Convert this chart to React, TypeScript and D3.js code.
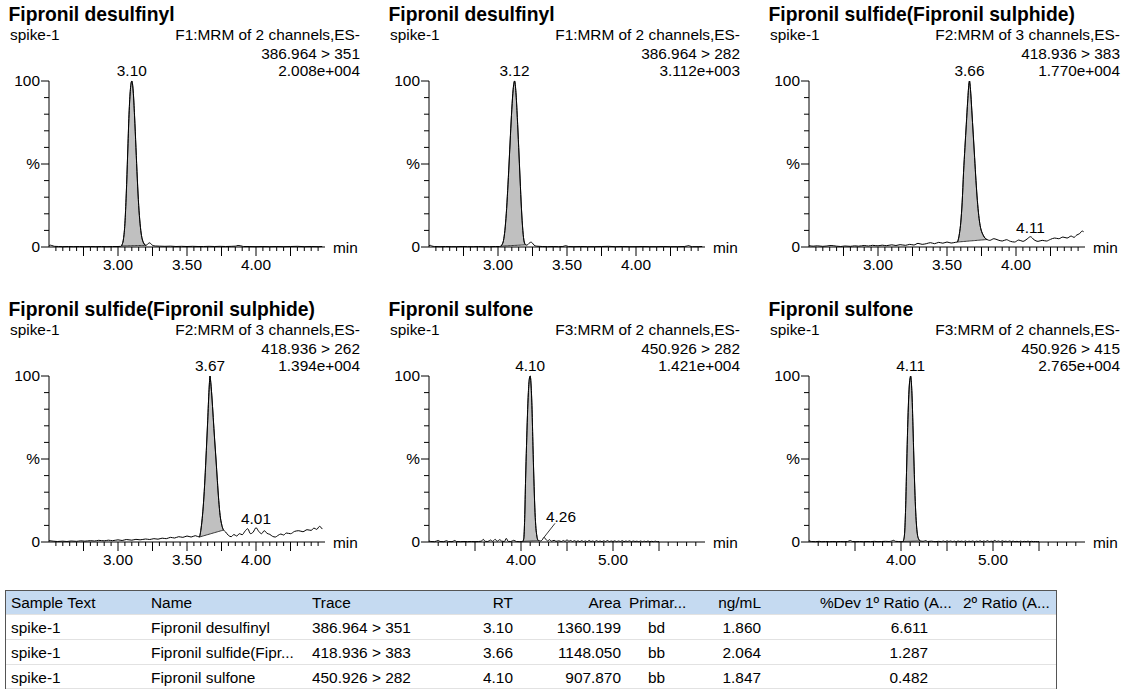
import React from "react";
import * as d3 from "d3";

type Pt = [number, number];

// chromatogram traces: [retention time (min), % of largest peak]
const desulfinyl351: Pt[] = [
  [2.5, 0.8], [2.51, 1.1], [2.52, 0.9], [2.54, 0.4], [2.57, 0.3], [2.6, 0.2], [2.64, 0.3], [2.68, 0.2],
  [2.72, 0.3], [2.76, 0.2], [2.8, 0.3], [2.84, 0.2], [2.88, 0.3], [2.92, 0.2], [2.96, 0.3], [3.0, 0.3],
  [3.02, 0.4], [3.025, 0.6], [3.03, 1.5], [3.04, 5], [3.05, 14], [3.06, 32], [3.07, 56], [3.08, 80],
  [3.09, 95], [3.1, 100], [3.11, 94], [3.12, 79], [3.13, 60], [3.14, 41], [3.15, 25], [3.16, 14],
  [3.17, 7], [3.18, 3.5], [3.19, 1.8], [3.2, 1.0], [3.21, 1.3], [3.22, 2.2], [3.23, 2.5], [3.24, 1.8],
  [3.25, 1.0], [3.27, 0.6], [3.3, 0.5], [3.34, 0.4], [3.38, 0.5], [3.42, 0.3], [3.46, 0.4], [3.5, 0.3],
  [3.54, 0.4], [3.58, 0.3], [3.62, 0.3], [3.66, 0.4], [3.7, 0.3], [3.74, 0.4], [3.78, 0.3], [3.82, 0.4],
  [3.85, 0.5], [3.87, 0.9], [3.89, 0.7], [3.91, 0.3], [3.95, 0.3], [4.0, 0.2], [4.05, 0.3], [4.1, 0.2],
  [4.15, 0.3], [4.2, 0.2], [4.25, 0.3], [4.3, 0.4], [4.35, 0.2], [4.4, 0.3], [4.45, 0.2], [4.48, 0.3],
];

const desulfinyl282: Pt[] = [
  [2.5, 0.9], [2.51, 1.0], [2.52, 0.6], [2.54, 0.3], [2.58, 0.2], [2.62, 0.3], [2.66, 0.2], [2.7, 0.2],
  [2.74, 0.3], [2.78, 0.2], [2.82, 0.2], [2.86, 0.3], [2.9, 0.2], [2.94, 0.2], [2.98, 0.3], [3.01, 0.3],
  [3.02, 0.5], [3.03, 1.5], [3.04, 4], [3.05, 10], [3.06, 20], [3.07, 34], [3.08, 50], [3.09, 67],
  [3.1, 83], [3.11, 95], [3.12, 100], [3.13, 93], [3.14, 78], [3.15, 60], [3.16, 41], [3.17, 23],
  [3.18, 10], [3.19, 3], [3.2, 1.3], [3.21, 1.1], [3.22, 1.8], [3.23, 2.6], [3.24, 2.9], [3.25, 2.3],
  [3.26, 1.2], [3.28, 0.5], [3.32, 0.3], [3.36, 0.2], [3.4, 0.3], [3.44, 0.2], [3.47, 0.3], [3.49, 0.8],
  [3.51, 0.3], [3.55, 0.2], [3.6, 0.3], [3.65, 0.2], [3.7, 0.2], [3.75, 0.3], [3.8, 0.4], [3.85, 0.2],
  [3.9, 0.3], [3.95, 0.2], [4.0, 0.2], [4.05, 0.3], [4.1, 0.2], [4.15, 0.2], [4.2, 0.3], [4.25, 0.2],
  [4.3, 0.2], [4.35, 0.3], [4.37, 0.6], [4.38, 0.9], [4.39, 0.6], [4.41, 0.2], [4.45, 0.2], [4.48, 0.3],
];

const sulfide383: Pt[] = [
  [2.5, 0.8], [2.53, 0.5], [2.56, 0.7], [2.6, 0.4], [2.63, 0.6], [2.66, 0.9], [2.7, 0.5], [2.73, 0.3],
  [2.76, 0.6], [2.8, 0.4], [2.83, 0.7], [2.86, 0.5], [2.9, 0.9], [2.93, 0.6], [2.96, 1.0], [3.0, 0.7],
  [3.03, 1.1], [3.06, 0.8], [3.1, 1.3], [3.13, 0.9], [3.16, 1.4], [3.2, 1.0], [3.23, 1.6], [3.26, 1.2],
  [3.29, 2.2], [3.32, 1.6], [3.35, 2.0], [3.38, 2.6], [3.41, 2.0], [3.44, 2.8], [3.47, 2.3], [3.5, 3.0],
  [3.53, 2.4], [3.56, 2.8], [3.575, 3.0], [3.59, 8], [3.6, 15], [3.61, 27], [3.62, 45], [3.63, 60],
  [3.64, 74], [3.65, 88], [3.66, 99], [3.663, 100], [3.67, 95], [3.68, 82], [3.69, 68], [3.7, 54],
  [3.71, 40], [3.72, 28], [3.73, 19], [3.74, 13], [3.75, 9.5], [3.76, 7.5], [3.77, 6], [3.78, 5],
  [3.79, 4.5], [3.81, 4.0], [3.84, 5.0], [3.87, 4.2], [3.9, 3.6], [3.93, 4.4], [3.96, 3.4], [3.99, 3.0],
  [4.02, 4.2], [4.05, 3.4], [4.08, 4.8], [4.105, 6.2], [4.13, 4.4], [4.16, 3.4], [4.19, 4.0], [4.22, 3.6],
  [4.25, 4.6], [4.28, 5.4], [4.31, 5.0], [4.34, 6.0], [4.37, 5.4], [4.4, 6.6], [4.42, 5.8], [4.44, 7.2],
  [4.46, 8.0], [4.48, 9.6], [4.49, 9.2],
];

const sulfide262: Pt[] = [
  [2.5, 0.8], [2.53, 0.5], [2.56, 0.3], [2.6, 0.5], [2.63, 0.3], [2.66, 0.6], [2.7, 0.4], [2.73, 0.7],
  [2.76, 0.5], [2.8, 0.8], [2.83, 0.6], [2.86, 1.0], [2.9, 0.7], [2.93, 1.1], [2.96, 0.8], [3.0, 1.3],
  [3.03, 0.9], [3.06, 1.5], [3.1, 1.1], [3.13, 1.6], [3.16, 1.3], [3.2, 1.8], [3.23, 1.5], [3.26, 2.0],
  [3.29, 1.7], [3.32, 2.3], [3.35, 2.0], [3.38, 2.8], [3.41, 2.4], [3.44, 3.2], [3.47, 2.8], [3.5, 3.6],
  [3.53, 3.0], [3.56, 3.8], [3.59, 3.0], [3.6, 7], [3.61, 14], [3.62, 24], [3.63, 38], [3.64, 55],
  [3.65, 73], [3.66, 92], [3.667, 100], [3.67, 98], [3.68, 88], [3.69, 75], [3.7, 62], [3.71, 50],
  [3.72, 37], [3.73, 25], [3.74, 16], [3.75, 11], [3.76, 8], [3.765, 7.2], [3.78, 6.0], [3.8, 4.0],
  [3.82, 3.2], [3.84, 4.5], [3.86, 3.6], [3.88, 5.0], [3.9, 4.4], [3.92, 6.5], [3.94, 8.0], [3.96, 5.0],
  [3.98, 6.0], [4.0, 8.6], [4.02, 6.4], [4.04, 5.0], [4.06, 6.8], [4.08, 5.2], [4.1, 4.6], [4.12, 3.4],
  [4.14, 3.0], [4.16, 4.0], [4.18, 4.8], [4.2, 4.2], [4.22, 5.4], [4.25, 5.0], [4.28, 6.4], [4.31, 6.8],
  [4.34, 6.2], [4.37, 7.4], [4.4, 7.0], [4.42, 8.4], [4.44, 7.6], [4.46, 9.4], [4.48, 7.8],
];

const sulfone282: Pt[] = [
  [3.0, 0.6], [3.02, 0.3], [3.06, 0.2], [3.1, 0.9], [3.12, 0.3], [3.16, 0.2], [3.19, 0.8], [3.21, 0.3],
  [3.25, 0.2], [3.28, 0.9], [3.3, 0.3], [3.34, 0.2], [3.38, 0.3], [3.42, 0.2], [3.46, 0.3], [3.5, 0.2],
  [3.54, 0.3], [3.57, 0.5], [3.59, 1.6], [3.61, 0.4], [3.64, 0.3], [3.67, 1.2], [3.69, 0.4], [3.72, 1.6],
  [3.74, 0.4], [3.77, 1.4], [3.79, 0.5], [3.82, 0.3], [3.84, 2.2], [3.86, 0.4], [3.89, 0.3], [3.92, 1.0],
  [3.95, 0.3], [3.98, 0.2], [4.01, 0.3], [4.02, 0.4], [4.03, 2], [4.04, 14], [4.05, 38], [4.06, 58],
  [4.07, 76], [4.08, 90], [4.09, 98], [4.1, 100], [4.11, 94], [4.12, 80], [4.13, 58], [4.14, 38],
  [4.15, 21], [4.16, 10], [4.17, 4.5], [4.18, 1.6], [4.19, 0.8], [4.21, 0.6], [4.23, 1.2], [4.25, 2.8],
  [4.27, 1.6], [4.29, 0.6], [4.31, 1.4], [4.33, 0.5], [4.36, 1.0], [4.38, 0.4], [4.41, 0.7], [4.44, 0.3],
  [4.46, 0.9], [4.48, 0.3], [4.5, 1.4], [4.52, 0.4], [4.54, 0.9], [4.56, 0.3], [4.58, 0.8], [4.6, 0.3],
  [4.62, 0.7], [4.64, 0.2], [4.66, 0.8], [4.68, 0.3], [4.7, 0.6], [4.72, 0.2], [4.74, 0.9], [4.76, 0.3],
  [4.78, 0.6], [4.8, 0.2], [4.82, 0.8], [4.84, 0.3], [4.86, 0.6], [4.88, 0.2], [4.9, 0.7], [4.92, 0.3],
  [4.94, 0.9], [4.96, 0.2], [4.98, 0.6], [5.0, 0.3], [5.02, 0.7], [5.04, 0.2], [5.06, 0.6], [5.08, 0.3],
  [5.1, 0.8], [5.12, 0.2], [5.14, 0.6], [5.16, 0.3], [5.18, 0.7], [5.2, 0.2], [5.22, 0.6], [5.24, 0.3],
  [5.26, 0.5], [5.28, 0.2], [5.3, 0.6], [5.32, 0.2], [5.34, 0.5], [5.36, 0.2], [5.38, 0.6], [5.4, 0.2],
  [5.42, 0.4], [5.44, 0.2], [5.46, 0.5], [5.48, 0.2], [5.5, 0.3],
];

const sulfone415: Pt[] = [
  [3.0, 0.9], [3.01, 0.5], [3.03, 0.3], [3.07, 0.2], [3.11, 0.4], [3.14, 0.2], [3.18, 0.3], [3.22, 0.2],
  [3.26, 0.3], [3.3, 0.2], [3.34, 0.3], [3.38, 0.2], [3.42, 0.3], [3.45, 0.9], [3.47, 0.3], [3.51, 0.2],
  [3.55, 0.3], [3.59, 0.2], [3.63, 0.3], [3.67, 0.2], [3.71, 0.4], [3.75, 0.2], [3.79, 0.3], [3.83, 0.4],
  [3.87, 0.3], [3.9, 0.6], [3.92, 1.0], [3.94, 0.4], [3.97, 0.3], [4.0, 0.2], [4.02, 0.3], [4.03, 1.5],
  [4.04, 6], [4.05, 20], [4.06, 42], [4.07, 64], [4.08, 82], [4.09, 94], [4.1, 99], [4.105, 100],
  [4.11, 98], [4.12, 88], [4.13, 70], [4.14, 50], [4.15, 32], [4.16, 18], [4.17, 9], [4.18, 4],
  [4.19, 2], [4.2, 1.0], [4.21, 0.6], [4.24, 0.4], [4.27, 0.8], [4.29, 0.3], [4.33, 0.5], [4.37, 0.2],
  [4.41, 0.4], [4.44, 0.2], [4.46, 0.6], [4.48, 0.2], [4.5, 0.7], [4.52, 0.3], [4.54, 0.6], [4.56, 0.2],
  [4.58, 0.5], [4.6, 0.2], [4.62, 0.6], [4.64, 0.3], [4.66, 0.5], [4.68, 0.2], [4.7, 0.6], [4.72, 0.2],
  [4.74, 0.5], [4.76, 0.3], [4.78, 0.6], [4.8, 0.2], [4.82, 0.5], [4.84, 0.3], [4.86, 0.7], [4.88, 0.2],
  [4.9, 0.6], [4.92, 0.3], [4.94, 0.8], [4.96, 0.2], [4.98, 0.5], [5.0, 0.3], [5.02, 0.9], [5.04, 0.3],
  [5.06, 0.6], [5.08, 0.2], [5.1, 0.7], [5.12, 0.3], [5.14, 0.5], [5.16, 0.2], [5.18, 0.6], [5.2, 0.3],
  [5.22, 0.5], [5.24, 0.2], [5.26, 0.4], [5.28, 0.2], [5.3, 0.5], [5.32, 0.2], [5.34, 0.4], [5.36, 0.2],
  [5.38, 0.5], [5.4, 0.2], [5.42, 0.4], [5.44, 0.2], [5.46, 0.3], [5.48, 0.2], [5.5, 0.3],
];

const traces = [desulfinyl351, desulfinyl282, sulfide383, sulfide262, sulfone282, sulfone415];

const titles = [
  "Fipronil desulfinyl",
  "Fipronil desulfinyl",
  "Fipronil sulfide(Fipronil sulphide)",
  "Fipronil sulfide(Fipronil sulphide)",
  "Fipronil sulfone",
  "Fipronil sulfone",
];
const sampleName = "spike-1";
const functionNames = [
  "F1:MRM of 2 channels,ES-",
  "F1:MRM of 2 channels,ES-",
  "F2:MRM of 3 channels,ES-",
  "F2:MRM of 3 channels,ES-",
  "F3:MRM of 2 channels,ES-",
  "F3:MRM of 2 channels,ES-",
];
const transitions = ["386.964 > 351", "386.964 > 282", "418.936 > 383", "418.936 > 262", "450.926 > 282", "450.926 > 415"];
const intensities = ["2.008e+004", "3.112e+003", "1.770e+004", "1.394e+004", "1.421e+004", "2.765e+004"];
const peakLabels = ["3.10", "3.12", "3.66", "3.67", "4.10", "4.11"];
const timeRanges: Pt[] = [[2.5, 4.5], [2.5, 4.5], [2.5, 4.5], [2.5, 4.5], [3, 6], [3, 6]];
// minor tick, major tick, labelled tick (min)
const tickSteps: [number, number, number][] = [
  [0.05, 0.25, 0.5], [0.05, 0.25, 0.5], [0.05, 0.25, 0.5],
  [0.05, 0.25, 0.5], [0.1, 0.5, 1], [0.1, 0.5, 1],
];
const peakWindows: Pt[] = [[3.025, 3.2], [3.02, 3.2], [3.575, 3.79], [3.59, 3.765], [4.02, 4.19], [4.02, 4.21]];
// [panel, time, label, has leader line]
const minorPeaks: [number, number, string, boolean][] = [
  [2, 4.105, "4.11", false],
  [3, 4.0, "4.01", false],
  [4, 4.25, "4.26", true],
];

// results table
const tableHeader = ["Sample Text", "Name", "Trace", "RT", "Area", "Primar...", "ng/mL", "%Dev", "1º Ratio (A...", "2º Ratio (A..."];
const sampleCol = ["spike-1", "spike-1", "spike-1"];
const nameCol = ["Fipronil desulfinyl", "Fipronil sulfide(Fipr...", "Fipronil sulfone"];
const traceCol = ["386.964 > 351", "418.936 > 383", "450.926 > 282"];
const rtCol = ["3.10", "3.66", "4.10"];
const areaCol = ["1360.199", "1148.050", "907.870"];
const primaryCol = ["bd", "bb", "bb"];
const concCol = ["1.860", "2.064", "1.847"];
const ratio1Col = ["6.611", "1.287", "0.482"];

const FONT = "'Liberation Sans', Arial, Helvetica, sans-serif";
const FS = 15.4;

const Panel = ({ i }: { i: number }) => {
  const ox = (i % 3) * 380;
  const oy = Math.floor(i / 3) * 295;
  const [t0, t1] = timeRanges[i];
  const x = d3.scaleLinear().domain([t0, t1]).range([49, 325]);
  const y = d3.scaleLinear().domain([0, 100]).range([247, 81]);
  const data = traces[i];

  const line = d3
    .line<Pt>()
    .x((d) => x(d[0]))
    .y((d) => y(d[1]))
    .curve(d3.curveMonotoneX);

  // integrated peak: area between trace and a straight baseline
  const [w0, w1] = peakWindows[i];
  const inPeak = data.filter((d) => d[0] >= w0 - 1e-9 && d[0] <= w1 + 1e-9);
  const a = inPeak[0];
  const b = inPeak[inPeak.length - 1];
  const base = (t: number) => a[1] + ((t - a[0]) / (b[0] - a[0])) * (b[1] - a[1]);
  const area = d3
    .area<Pt>()
    .x((d) => x(d[0]))
    .y0((d) => y(base(d[0])))
    .y1((d) => y(d[1]))
    .curve(d3.curveMonotoneX);

  const apex = data.reduce((m, d) => (d[1] > m[1] ? d : m), data[0]);

  const [minor, major, lab] = tickSteps[i];
  const n = Math.round((t1 - t0) / minor);
  const ticks = d3.range(1, n).map((k) => t0 + k * minor);
  const isMult = (t: number, s: number) => Math.abs(t / s - Math.round(t / s)) < 1e-6;
  const yTicks = d3.range(0, 101, 10);

  const extras = minorPeaks.filter((m) => m[0] === i);

  return (
    <g transform={`translate(${ox},${oy})`} fontFamily={FONT} fontSize={FS} fill="#000">
      <text x={8.5} y={21} fontWeight="bold" fontSize={19.3}>
        {titles[i]}
      </text>
      <text x={10} y={40}>{sampleName}</text>
      <text x={360} y={40} textAnchor="end">{functionNames[i]}</text>
      <text x={360} y={58.5} textAnchor="end">{transitions[i]}</text>
      <text x={360} y={76} textAnchor="end">{intensities[i]}</text>

      <path d={area(inPeak) || ""} fill="#c0c0c0" stroke="#222" strokeWidth={0.9} />
      <path d={line(data) || ""} fill="none" stroke="#000" strokeWidth={1} />

      <text x={x(apex[0])} y={y(apex[1]) - 5} textAnchor="middle">
        {peakLabels[i]}
      </text>
      {extras.map((m, k) => {
        const p = data.reduce((best, d) => (Math.abs(d[0] - m[1]) < Math.abs(best[0] - m[1]) ? d : best), data[0]);
        const px = x(p[0]);
        const py = y(p[1]);
        return m[3] ? (
          <g key={k}>
            <line x1={px} y1={py} x2={px + 11} y2={py - 14} stroke="#000" strokeWidth={0.8} />
            <text x={px + 17} y={py - 15} textAnchor="middle">{m[2]}</text>
          </g>
        ) : (
          <text key={k} x={px} y={py - 4} textAnchor="middle">{m[2]}</text>
        );
      })}

      {/* y axis */}
      <line x1={49} y1={y(100)} x2={49} y2={y(0)} stroke="#000" strokeWidth={1} />
      {yTicks.map((v) => (
        <line key={v} x1={v % 50 === 0 ? 41 : 44} x2={49} y1={y(v)} y2={y(v)} stroke="#000" strokeWidth={1} />
      ))}
      <text x={40} y={y(100)} dy="0.35em" textAnchor="end">100</text>
      <text x={40} y={y(50)} dy="0.35em" textAnchor="end">%</text>
      <text x={40} y={y(0)} dy="0.35em" textAnchor="end">0</text>

      {/* x axis */}
      <line x1={49} y1={247} x2={325} y2={247} stroke="#000" strokeWidth={1} />
      {ticks.map((t) => (
        <line key={t} x1={x(t)} x2={x(t)} y1={247} y2={isMult(t, major) ? 256 : 251} stroke="#000" strokeWidth={1} />
      ))}
      {ticks
        .filter((t) => isMult(t, lab))
        .map((t) => (
          <text key={t} x={x(t)} y={270} textAnchor="middle">
            {d3.format(".2f")(t)}
          </text>
        ))}
      <text x={333} y={252.5}>min</text>
    </g>
  );
};

const colX = [11, 151, 312, 513, 621, 629, 761, 861, 865, 963];
const colAnchor = ["start", "start", "start", "end", "end", "start", "end", "end", "start", "start"];

const ResultsTable = () => {
  const rowTop = [614, 639, 664];
  const cells: [number, string, string[]][] = [
    [11, "start", sampleCol],
    [151, "start", nameCol],
    [312, "start", traceCol],
    [513, "end", rtCol],
    [621, "end", areaCol],
    [648, "start", primaryCol],
    [761, "end", concCol],
    [928, "end", ratio1Col],
  ];
  return (
    <g fontFamily={FONT} fontSize={FS} fill="#000">
      <rect x={5.5} y={590.5} width={1051} height={24} fill="#c5daf1" />
      {rowTop.map((r) => (
        <line key={r} x1={6} x2={1056} y1={r + 0.5} y2={r + 0.5} stroke="#e2e2e2" />
      ))}
      <line x1={6} x2={1056} y1={688.5} y2={688.5} stroke="#e2e2e2" />
      <rect x={5.5} y={590.5} width={1051} height={110} fill="none" stroke="#555" strokeWidth={1} />
      {tableHeader.map((h, k) => (
        <text key={h} x={colX[k]} y={608} textAnchor={colAnchor[k] as any}>
          {h}
        </text>
      ))}
      {cells.map(([cx, anchor, col]) =>
        col.map((v, r) => (
          <text key={`${cx}-${r}`} x={cx} y={rowTop[r] + 19} textAnchor={anchor as any}>
            {v}
          </text>
        ))
      )}
    </g>
  );
};

export default function App() {
  return (
    <svg
      width={1128}
      height={689}
      style={{ position: "absolute", left: 0, top: 0, background: "#fff" }}
    >
      <rect width={1128} height={689} fill="#fff" />
      {d3.range(6).map((i) => (
        <Panel key={i} i={i} />
      ))}
      <ResultsTable />
    </svg>
  );
}
